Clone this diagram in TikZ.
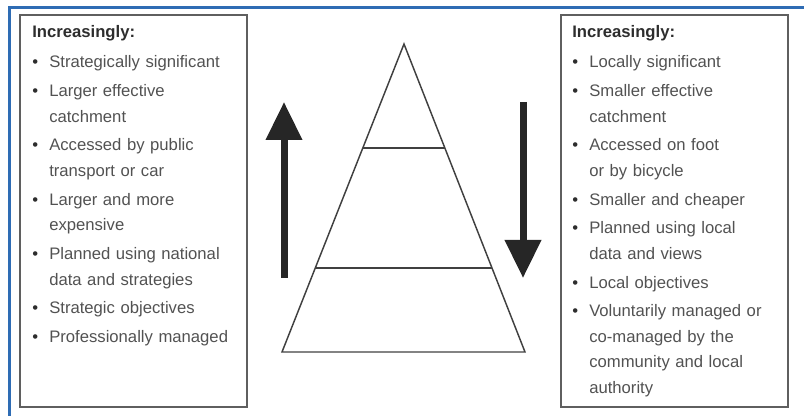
\documentclass[tikz,border=0pt]{standalone}
\usepackage{fontspec}
\setmainfont{Liberation Sans}
\usepackage{tikz}
\usetikzlibrary{positioning,calc,arrows.meta}

\definecolor{frameblue}{RGB}{46,108,180}
\definecolor{boxgrey}{RGB}{95,95,95}
\definecolor{textgrey}{RGB}{82,82,82}
\definecolor{headgrey}{RGB}{45,45,45}
\definecolor{arrowgrey}{RGB}{38,38,38}

\newlength{\bulletw}
\setlength{\bulletw}{12.75pt}
\newcommand{\listhead}{\textcolor{headgrey}{\textbf{Increasingly:}}\par\vspace{1.5pt}}
% \\ must stay a plain line break here so the hanging indent holds
\newcommand{\pitem}[1]{\par\vspace{2.3pt}\begingroup\let\\\newline\noindent\hangindent=\bulletw\hangafter=1\makebox[\bulletw][l]{\textcolor{headgrey}{\textbullet}}#1\par\endgroup}

\begin{document}
\begin{tikzpicture}
		[
			x=0.75pt, y=-0.75pt,
			listbox/.style={draw=boxgrey, line width=1.5pt, minimum width=170.25pt, minimum height=294pt, inner sep=0pt},
			listtext/.style={anchor=base west, inner sep=0pt, text width=175pt, align=left, text=textgrey, font=\fontsize{12.5pt}{19.2pt}\selectfont},
			pyramid/.style={draw=black!75, line width=1.1pt},
			bigarrow/.style={draw=arrowgrey, line width=5.25pt, -{Triangle[length=28.5pt, width=26.25pt]}}
		]

		\useasboundingbox (0,0) rectangle (804,416);
		\draw[frameblue, line width=2.25pt] (9,420) -- (9,7.5) -- (808,7.5);

		\node[listbox] (leftbox) at (133.5,211) {};
		\node[listbox] (rightbox) at (674.5,211) {};

		\node[listtext] (strategic) at ([shift={(13,23.3)}]leftbox.north west) {%
			\listhead
			\pitem{Strategically significant}
			\pitem{Larger effective\\catchment}
			\pitem{Accessed by public\\transport or car}
			\pitem{Larger and more\\expensive}
			\pitem{Planned using national\\data and strategies}
			\pitem{Strategic objectives}
			\pitem{Professionally managed}};
		\node[listtext] (local) at ([shift={(12,23.3)}]rightbox.north west) {%
			\listhead
			\pitem{Locally significant}
			\pitem{Smaller effective\\catchment}
			\pitem{Accessed on foot\\or by bicycle}
			\pitem{Smaller and cheaper}
			\pitem{Planned using local\\data and views}
			\pitem{Local objectives}
			\pitem{Voluntarily managed or\\co-managed by the\\community and local\\authority}};

		\coordinate (apex) at (404,44);
		\coordinate (baseleft) at (282,352);
		\coordinate (baseright) at (525,352);
		\draw[pyramid] (apex) -- (baseright) -- (baseleft) -- cycle;
		\draw[pyramid] ($(apex)!0.3377!(baseleft)$) -- ($(apex)!0.3377!(baseright)$);
		\draw[pyramid] ($(apex)!0.7273!(baseleft)$) -- ($(apex)!0.7273!(baseright)$);

		\coordinate (upfoot) at (284,278);
		\coordinate (uptip) at (284,102);
		\coordinate (downtop) at (523,102);
		\coordinate (downtip) at (523,278);
		\draw[bigarrow] (upfoot) -- (uptip);
		\draw[bigarrow] (downtop) -- (downtip);
	\end{tikzpicture}
\end{document}
